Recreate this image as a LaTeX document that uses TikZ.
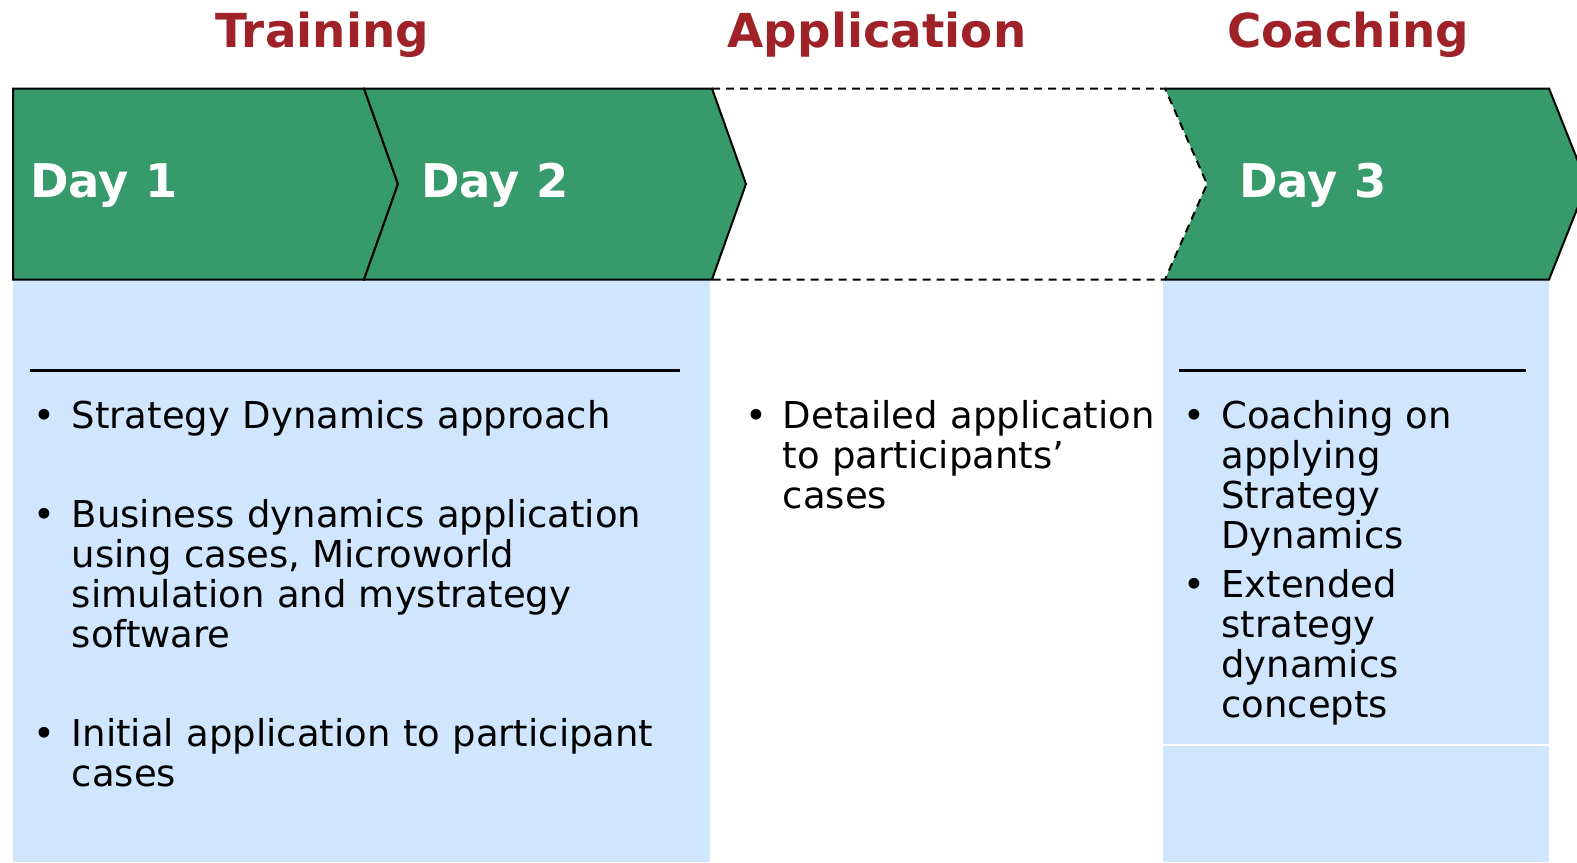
\documentclass[tikz,border=0pt]{standalone}
\usepackage{fontspec}
\setmainfont{DejaVu Sans}

\definecolor{daygreen}{RGB}{54,154,106}
\definecolor{panelblue}{RGB}{208,230,255}
\definecolor{titlered}{RGB}{158,34,40}

\tikzset{
  phase/.style={font=\bfseries\fontsize{23.4}{28}\selectfont, text=titlered, anchor=base, inner sep=0pt},
  daylabel/.style={font=\bfseries\fontsize{23.2}{28}\selectfont, text=white, anchor=base west, inner sep=0pt},
  itemtext/.style={font=\fontsize{18.5}{20.1}\selectfont, anchor=base west, inner sep=0pt, align=left, text width=#1},
  itemtext/.default=330pt
}
\newcommand{\bul}{\makebox[0pt][r]{\textbullet\hspace{8pt}}}

\begin{document}
\begin{tikzpicture}[x=0.5pt, y=-0.5pt]
        \useasboundingbox (0,0) rectangle (1577,862);

        % Blue panels below the days
        \fill[panelblue] (13,279) rectangle (710,862);
        \fill[panelblue] (1163,279) rectangle (1549,862);
        \draw[white, line width=0.6pt] (1163,745) -- (1549,745);

        % Chevrons
        \draw[fill=daygreen, line width=1pt] (13,88.5) -- (364,88.5) -- (398,184) -- (364,279.5) -- (13,279.5) -- cycle;
        \draw[fill=daygreen, line width=1pt] (364,88.5) -- (712,88.5) -- (746,184) -- (712,279.5) -- (364,279.5) -- (398,184) -- cycle;
        \fill[daygreen] (1165,88.5) -- (1549,88.5) -- (1587,184) -- (1549,279.5) -- (1165,279.5) -- (1207,184) -- cycle;
        \draw[line width=1pt] (1165,88.5) -- (1549,88.5) -- (1587,184) -- (1549,279.5) -- (1165,279.5);
        \draw[dashed, dash pattern=on 4pt off 3pt, line width=1pt] (712,88.5) -- (1165,88.5) -- (1207,184) -- (1165,279.5) -- (712,279.5);

        % Phase titles
        \node[phase] (train) at (322,47) {Training};
        \node[phase] (appl) at (877,47) {Application};
        \node[phase] (coach) at (1348,47) {Coaching};

        % Day labels
        \node[daylabel] (day1) at (30,197) {Day 1};
        \node[daylabel] (day2) at (421,197) {Day 2};
        \node[daylabel] (day3) at (1239,197) {Day 3};

        % Rules above the lists
        \draw[line width=1.5pt] (30,370) -- (680,370);
        \draw[line width=1.5pt] (1179,370) -- (1526,370);

        % Training items
        \node[itemtext] (t1) at (71.4,428) {\bul Strategy Dynamics approach};
        \node[itemtext] (t2) at (71.4,527) {\bul Business dynamics application\\ using cases, Microworld\\ simulation and mystrategy\\ software};
        \node[itemtext] (t3) at (71.4,746) {\bul Initial application to participant\\ cases};

        % Application item
        \node[itemtext] (a1) at (782.5,428) {\bul Detailed application\\ to participants’\\ cases};

        % Coaching items
        \node[itemtext] (c1) at (1221,428) {\bul Coaching on\\ applying\\ Strategy\\ Dynamics};
        \node[itemtext] (c2) at (1221,597) {\bul Extended\\ strategy\\ dynamics\\ concepts};
    \end{tikzpicture}
\end{document}
